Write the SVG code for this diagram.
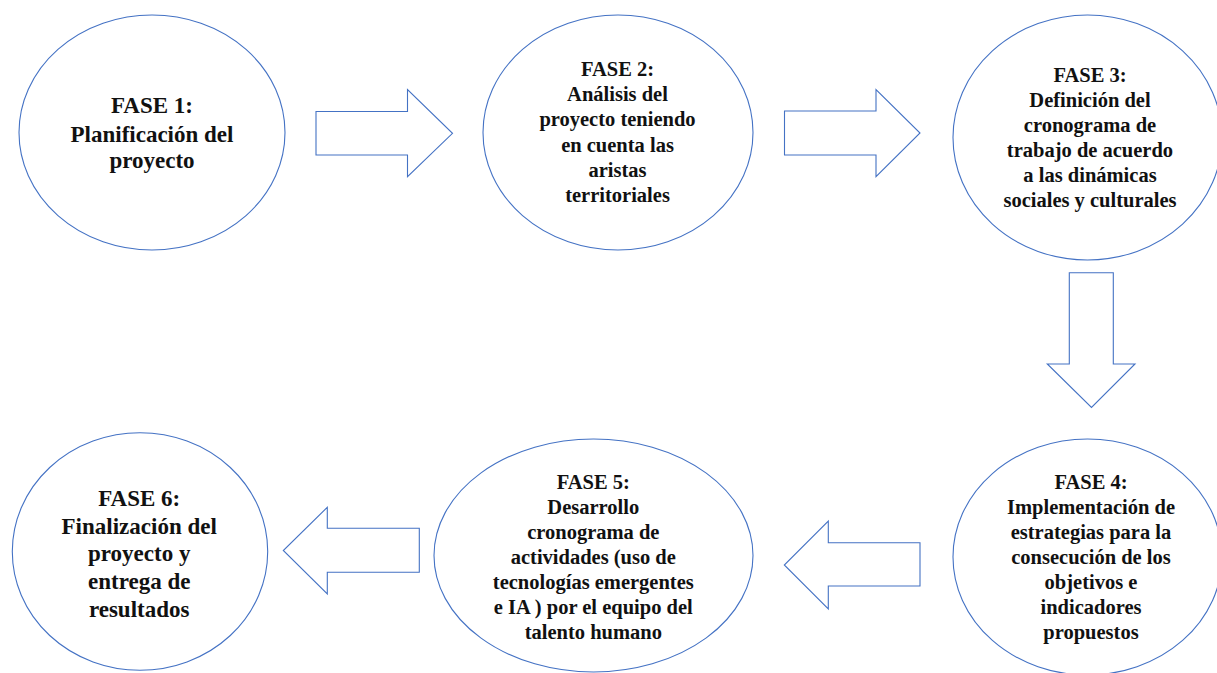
<svg xmlns="http://www.w3.org/2000/svg" width="1217" height="673" viewBox="0 0 1217 673">
<style>
.node{fill:#fff;stroke:#4472C4;stroke-width:1.1}
.arrow{fill:#fff;stroke:#4472C4;stroke-width:1.1;stroke-linejoin:miter}
.t{font-family:"Liberation Serif","Times New Roman",serif;font-weight:bold;fill:#111;text-anchor:middle}
.s{font-size:20.5px}
.l{font-size:23px}
</style>
<rect width="1217" height="673" fill="#fff"/>
<g id="connectors">
<polygon class="arrow" points="316,111.5 407.5,111.5 407.5,89.5 452.5,133.3 407.5,176.7 407.5,155 316,155"/>
<polygon class="arrow" points="784.5,111 876,111 876,89.5 920,133 876,176.7 876,155 784.5,155"/>
<polygon class="arrow" points="1069.3,272.7 1113.3,272.7 1113.3,364 1135,364 1091.5,407.5 1047.3,364 1069.3,364"/>
<polygon class="arrow" points="920,542.7 828.3,542.7 828.3,521 784.3,565 828.3,609 828.3,586 920,586"/>
<polygon class="arrow" points="419.3,528.3 327.3,528.3 327.3,507.3 283.3,550.5 327.3,594 327.3,572.3 419.3,572.3"/>
</g>
<g id="fase1">
<ellipse class="node" cx="152" cy="132.5" rx="133" ry="117.5"/>
<text class="t l" x="152"><tspan x="152" y="113">FASE 1:</tspan><tspan x="152" y="141.5">Planificación del</tspan><tspan x="152" y="168">proyecto</tspan></text>
</g>
<g id="fase2">
<ellipse class="node" cx="618" cy="132.5" rx="135" ry="117.5"/>
<text class="t s"><tspan x="617.5" y="76">FASE 2:</tspan><tspan x="617.5" y="101.2">Análisis del</tspan><tspan x="617.5" y="126.4">proyecto teniendo</tspan><tspan x="617.5" y="151.6">en cuenta las</tspan><tspan x="617.5" y="176.8">aristas</tspan><tspan x="617.5" y="202">territoriales</tspan></text>
</g>
<g id="fase3">
<ellipse class="node" cx="1087.5" cy="137.5" rx="134.5" ry="122.5"/>
<text class="t s"><tspan x="1090" y="81.7">FASE 3:</tspan><tspan x="1090" y="106.7">Definición del</tspan><tspan x="1090" y="131.7">cronograma de</tspan><tspan x="1090" y="156.7">trabajo de acuerdo</tspan><tspan x="1090" y="181.7">a las dinámicas</tspan><tspan x="1090" y="206.7">sociales y culturales</tspan></text>
</g>
<g id="fase4">
<ellipse class="node" cx="1087.5" cy="557" rx="134.5" ry="118"/>
<text class="t s"><tspan x="1091" y="489">FASE 4:</tspan><tspan x="1091" y="514">Implementación de</tspan><tspan x="1091" y="539">estrategias para la</tspan><tspan x="1091" y="564">consecución de los</tspan><tspan x="1091" y="589">objetivos e</tspan><tspan x="1091" y="614">indicadores</tspan><tspan x="1091" y="639">propuestos</tspan></text>
</g>
<g id="fase5">
<ellipse class="node" cx="593.5" cy="555.5" rx="159.5" ry="116.5"/>
<text class="t s"><tspan x="593.3" y="489.3">FASE 5:</tspan><tspan x="593.3" y="514.3">Desarrollo</tspan><tspan x="593.3" y="539.3">cronograma de</tspan><tspan x="593.3" y="564.3">actividades (uso de</tspan><tspan x="593.3" y="589.3">tecnologías emergentes</tspan><tspan x="593.3" y="614.3">e IA ) por el equipo del</tspan><tspan x="593.3" y="639.3">talento humano</tspan></text>
</g>
<g id="fase6">
<ellipse class="node" cx="140" cy="551.5" rx="127.7" ry="118.8"/>
<text class="t l"><tspan x="139.2" y="506">FASE 6:</tspan><tspan x="139.2" y="533.5">Finalización del</tspan><tspan x="139.2" y="561">proyecto y</tspan><tspan x="139.2" y="588.5">entrega de</tspan><tspan x="139.2" y="616.5">resultados</tspan></text>
</g>
</svg>
